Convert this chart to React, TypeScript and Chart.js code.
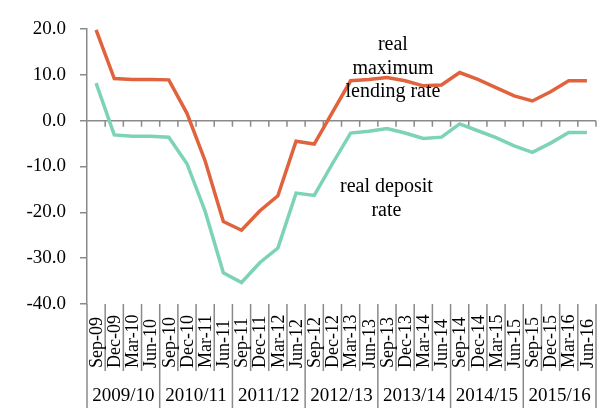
import React, { useEffect, useRef } from "react";
import { Chart, registerables } from "chart.js";

Chart.register(...registerables);

const categories = [
  "Sep-09", "Dec-09", "Mar-10", "Jun-10",
  "Sep-10", "Dec-10", "Mar-11", "Jun-11",
  "Sep-11", "Dec-11", "Mar-12", "Jun-12",
  "Sep-12", "Dec-12", "Mar-13", "Jun-13",
  "Sep-13", "Dec-13", "Mar-14", "Jun-14",
  "Sep-14", "Dec-14", "Mar-15", "Jun-15",
  "Sep-15", "Dec-15", "Mar-16", "Jun-16",
];

const fiscalYears = ["2009/10", "2010/11", "2011/12", "2012/13", "2013/14", "2014/15", "2015/16"];

const lendingRate = [
  19.8, 9.2, 9.0, 9.0, 8.9, 1.6, -8.8, -22.0, -23.9, -19.7, -16.4, -4.5, -5.1, 1.8,
  8.7, 9.0, 9.4, 8.7, 7.6, 7.8, 10.5, 9.0, 7.2, 5.4, 4.3, 6.3, 8.7, 8.7,
];

const depositRate = [
  8.2, -3.1, -3.4, -3.4, -3.6, -9.4, -19.8, -33.2, -35.3, -31.0, -27.8, -15.8, -16.3, -9.4,
  -2.7, -2.3, -1.7, -2.7, -3.9, -3.6, -0.7, -2.2, -3.7, -5.5, -6.9, -4.9, -2.6, -2.6,
];

const yTicks = [20, 10, 0, -10, -20, -30, -40];

const lendingLabel = ["real", "maximum", "lending rate"];
const lendingLabelAnchor = { index: 16.33, values: [16.5, 11.4, 6.3] };
const depositLabel = ["real deposit", "rate"];
const depositLabelAnchor = { index: 15.97, values: [-14.5, -19.6] };

const ORANGE = "#E1633D";
const TEAL = "#7DD3B6";
const AXIS = "#8a8a8a";
const SERIF = "'Liberation Serif', 'Times New Roman', serif";

const axisPlugin = {
  id: "customAxes",
  beforeDatasetsDraw(chart: any) {
    const { ctx, chartArea, scales } = chart;
    const x = scales.x;
    const y = scales.y;
    const y0 = y.getPixelForValue(0);
    ctx.save();
    ctx.strokeStyle = AXIS;
    ctx.lineWidth = 1.5;
    ctx.beginPath();
    ctx.moveTo(chartArea.left, y0);
    ctx.lineTo(chartArea.right, y0);
    const n = categories.length;
    for (let i = 1; i <= n; i++) {
      const bx = x.getPixelForValue(i - 0.5);
      ctx.moveTo(bx, y0);
      ctx.lineTo(bx, y0 + 6);
    }
    ctx.stroke();
    ctx.restore();
  },
  afterDatasetsDraw(chart: any) {
    const { ctx, scales } = chart;
    const x = scales.x;
    const y = scales.y;
    ctx.save();
    ctx.fillStyle = "#000";
    ctx.font = `20px ${SERIF}`;
    ctx.textAlign = "center";
    ctx.textBaseline = "middle";
    const lx = x.getPixelForValue(lendingLabelAnchor.index);
    lendingLabel.forEach((t, i) => ctx.fillText(t, lx, y.getPixelForValue(lendingLabelAnchor.values[i])));
    const dx = x.getPixelForValue(depositLabelAnchor.index);
    depositLabel.forEach((t, i) => ctx.fillText(t, dx, y.getPixelForValue(depositLabelAnchor.values[i])));
    ctx.restore();
  },
  afterDraw(chart: any) {
    const { ctx, chartArea, scales } = chart;
    const x = scales.x;
    const bottom = chartArea.bottom;
    const H = chart.height;
    const n = categories.length;
    ctx.save();
    ctx.strokeStyle = AXIS;
    ctx.lineWidth = 1.5;
    ctx.beginPath();
    for (let i = 0; i <= n; i++) {
      const bx = x.getPixelForValue(i - 0.5);
      const full = i % 4 === 0;
      ctx.moveTo(bx, bottom);
      ctx.lineTo(bx, full ? H : bottom + 67);
    }
    ctx.stroke();

    ctx.fillStyle = "#000";
    ctx.font = `18px ${SERIF}`;
    ctx.textAlign = "left";
    ctx.textBaseline = "middle";
    categories.forEach((c, i) => {
      const cx = x.getPixelForValue(i);
      ctx.save();
      ctx.translate(cx + 1, bottom + 64);
      ctx.rotate(-Math.PI / 2);
      ctx.fillText(c, 0, 0);
      ctx.restore();
    });

    ctx.font = `19px ${SERIF}`;
    ctx.textAlign = "center";
    fiscalYears.forEach((fy, g) => {
      const cx = x.getPixelForValue(g * 4 + 1.5);
      ctx.fillText(fy, cx, bottom + 92);
    });
    ctx.restore();
  },
};

export default function App() {
  const ref = useRef<HTMLCanvasElement | null>(null);
  useEffect(() => {
    if (!ref.current) return;
    const chart = new Chart(ref.current, {
      type: "line",
      data: {
        labels: categories,
        datasets: [
          {
            label: "real maximum lending rate",
            data: lendingRate,
            borderColor: ORANGE,
            borderWidth: 3.5,
            pointRadius: 0,
            tension: 0,
            fill: false,
          },
          {
            label: "real deposit rate",
            data: depositRate,
            borderColor: TEAL,
            borderWidth: 3.5,
            pointRadius: 0,
            tension: 0,
            fill: false,
          },
        ],
      },
      options: {
        animation: false,
        responsive: false,
        devicePixelRatio: 1,
        layout: { padding: { left: 0, top: 29, right: 9, bottom: 104 } },
        plugins: { legend: { display: false }, tooltip: { enabled: false } },
        scales: {
          x: { type: "category", display: false, offset: true },
          y: {
            min: -40,
            max: 20,
            afterBuildTicks: (s: any) => {
              s.ticks = yTicks.map((v) => ({ value: v }));
            },
            afterFit: (s: any) => {
              s.width = 87;
            },
            ticks: {
              callback: (v: any) => Number(v).toFixed(1),
              font: { family: SERIF, size: 19 },
              color: "#000",
              padding: 14,
            },
            grid: { drawOnChartArea: false, drawTicks: true, tickLength: 7, color: AXIS, lineWidth: 1.5 },
            border: { color: AXIS, width: 1.5 },
          },
        },
      },
      plugins: [axisPlugin],
    });
    return () => chart.destroy();
  }, []);
  return (
    <div style={{ position: "fixed", left: 0, top: 0, width: 605, height: 408, background: "#fff" }}>
      <canvas ref={ref} width={605} height={408} style={{ width: 605, height: 408 }} />
    </div>
  );
}
